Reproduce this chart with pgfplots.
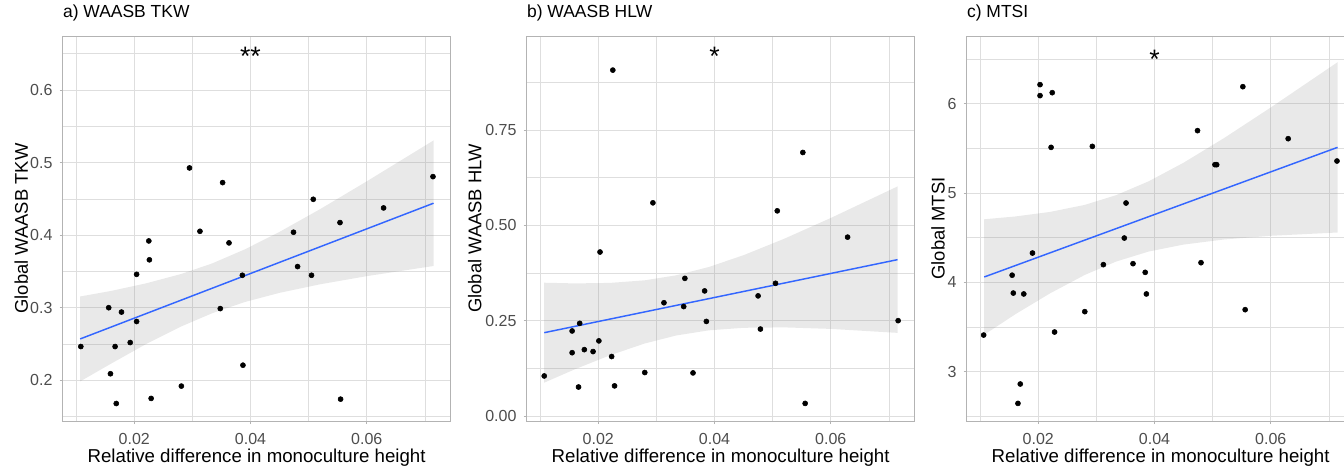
\documentclass[border=0pt]{standalone}
\usepackage{pgfplots}
\usepackage{pgfplotstable}
\pgfplotsset{compat=1.18}
\usepackage{fontspec}
\setmainfont{Liberation Sans}
\definecolor{gridmaj}{HTML}{DEDEDE}
\definecolor{bordergray}{HTML}{B3B3B3}
\definecolor{ticktext}{HTML}{4D4D4D}
\definecolor{smoothblue}{HTML}{3366FF}
\definecolor{bandgray}{HTML}{999999}

% Panel a points
\pgfplotstableread{
x y
0.0108 0.2465
0.0156 0.300
0.0159 0.209
0.0167 0.2465
0.0169 0.168
0.0178 0.294
0.0193 0.252
0.0204 0.346
0.0204 0.281
0.0225 0.392
0.0226 0.366
0.0229 0.175
0.0281 0.192
0.0295 0.4926
0.0313 0.4053
0.0348 0.2988
0.0352 0.4724
0.0363 0.3893
0.0386 0.3447
0.0387 0.2208
0.0474 0.404
0.0481 0.3567
0.0505 0.3447
0.0508 0.4494
0.0554 0.4173
0.0555 0.174
0.0629 0.4375
0.0714 0.4806
}\dataA
\pgfplotstableread{
x y
0.0107 0.3155
0.016 0.3231
0.022 0.3335
0.028 0.3463
0.0334 0.3610
0.039 0.3803
0.045 0.4045
0.052 0.4359
0.06 0.4741
0.0715 0.5305
0.0715 0.3575
0.06 0.3435
0.052 0.3323
0.045 0.3205
0.039 0.3078
0.0334 0.2924
0.028 0.2739
0.022 0.2498
0.016 0.2229
0.0107 0.1985
}\bandA
\pgfplotstableread{
x y
0.0107 0.257
0.0715 0.444
}\lineA

% Panel b points
\pgfplotstableread{
x y
0.0107 0.105
0.0155 0.166
0.0155 0.223
0.0166 0.076
0.0168 0.243
0.0176 0.174
0.0191 0.169
0.0201 0.197
0.0203 0.430
0.0223 0.156
0.0225 0.907
0.0228 0.079
0.0280 0.114
0.0294 0.559
0.0313 0.297
0.0347 0.287
0.0349 0.361
0.0363 0.113
0.0383 0.328
0.0386 0.248
0.0475 0.315
0.0479 0.228
0.0505 0.348
0.0508 0.538
0.0552 0.691
0.0556 0.033
0.0629 0.469
0.0716 0.250
}\dataB
\pgfplotstableread{
x y
0.0107 0.3495
0.016 0.3477
0.022 0.3490
0.028 0.3558
0.0334 0.3689
0.039 0.3906
0.045 0.4217
0.052 0.4648
0.06 0.5192
0.0715 0.602
0.0715 0.218
0.06 0.2284
0.052 0.2324
0.045 0.2313
0.039 0.2246
0.0334 0.2111
0.028 0.1902
0.022 0.1592
0.016 0.1227
0.0107 0.0875
}\bandB
\pgfplotstableread{
x y
0.0107 0.2185
0.0715 0.410
}\lineB

% Panel c points
\pgfplotstableread{
x y
0.0106 3.41
0.0155 4.08
0.0157 3.88
0.0165 2.645
0.0169 2.862
0.0175 3.87
0.0190 4.328
0.0203 6.213
0.0203 6.09
0.0222 5.511
0.0224 6.123
0.0228 3.444
0.0280 3.672
0.0293 5.522
0.0312 4.198
0.0348 4.496
0.0351 4.888
0.0363 4.209
0.0384 4.112
0.0386 3.87
0.0474 5.698
0.0480 4.22
0.0504 5.317
0.0507 5.317
0.0552 6.19
0.0556 3.694
0.0630 5.608
0.0714 5.358
}\dataC
\pgfplotstableread{
x y
0.0107 4.706
0.016 4.737
0.022 4.788
0.028 4.867
0.0334 4.976
0.039 5.131
0.045 5.339
0.052 5.616
0.06 5.957
0.0715 6.464
0.0715 4.558
0.06 4.521
0.052 4.480
0.045 4.423
0.039 4.345
0.0334 4.233
0.028 4.083
0.022 3.876
0.016 3.641
0.0107 3.414
}\bandC
\pgfplotstableread{
x y
0.0107 4.06
0.0715 5.511
}\lineC

\pgfplotsset{
  panel/.style={
    scale only axis, width=290.7pt, height=288.75pt, anchor=south west,
    xmin=0.0077, xmax=0.0744,
    scaled x ticks=false, scaled y ticks=false,
    axis line style={draw=bordergray, line width=0.6pt},
    tick align=outside, tick pos=left,
    major tick length=2.4pt, minor tick length=0pt,
    every tick/.style={draw=bordergray, line width=0.6pt},
    grid=both,
    major grid style={draw=gridmaj, line width=0.6pt},
    minor grid style={draw=gridmaj, line width=0.35pt},
    xtick={0.02,0.04,0.06}, xticklabels={0.02,0.04,0.06},
    minor xtick={0.01,0.03,0.05,0.07},
    /pgf/number format/assume math mode=true,
    ticklabel style={font=\fontsize{12}{14}\selectfont, text=ticktext},
    xticklabel style={inner sep=0pt, anchor=north, yshift=-6.5pt},
    yticklabel style={inner sep=0pt, anchor=east, xshift=-5.2pt},
    xlabel={Relative difference in monoculture height},
    xlabel style={at={(axis description cs:0.5,-0.109)}, anchor=base, inner sep=0pt, font=\fontsize{14}{16}\selectfont},
    ylabel style={anchor=south, inner sep=0pt, font=\fontsize{13.8}{16}\selectfont},
    title style={at={(axis description cs:0,1.026)}, anchor=base west, inner sep=0pt, font=\fontsize{13.1}{15}\selectfont},
    clip=true,
  },
  pts/.style={only marks, mark=*, mark size=1.9pt, black},
  band/.style={fill=bandgray, fill opacity=0.22, draw=none},
  fit/.style={smoothblue, line width=1.1pt},
}
\tikzset{starlbl/.style={anchor=base, inner sep=0pt, font=\fontsize{20}{22}\selectfont}}

\begin{document}
\begin{tikzpicture}
\path[use as bounding box] (0,0) rectangle (1008pt,350.25pt);

\begin{axis}[panel, at={(47.1pt,34.5pt)},
  ymin=0.1439, ymax=0.6744,
  ytick={0.2,0.3,0.4,0.5,0.6}, yticklabels={0.2,0.3,0.4,0.5,0.6},
  minor ytick={0.15,0.25,0.35,0.45,0.55,0.65},
  ylabel={Global WAASB TKW},
  ylabel style={at={(axis description cs:-0.089,0.5)}},
  title={a) WAASB TKW}]
\addplot[pts] table[x=x,y=y] {\dataA};
\addplot[band] table[x=x,y=y] {\bandA};
\addplot[fit] table[x=x,y=y] {\lineA};
\node[starlbl] at (axis cs:0.04,0.6344) {**};
\end{axis}

\begin{axis}[panel, at={(395.1pt,34.5pt)},
  ymin=-0.0131, ymax=0.9965,
  ytick={0,0.25,0.5,0.75}, yticklabels={0.00,0.25,0.50,0.75},
  minor ytick={0.125,0.375,0.625,0.875},
  ylabel={Global WAASB HLW},
  ylabel style={at={(axis description cs:-0.116,0.5)}},
  title={b) WAASB HLW}]
\addplot[pts] table[x=x,y=y] {\dataB};
\addplot[band] table[x=x,y=y] {\bandB};
\addplot[fit] table[x=x,y=y] {\lineB};
\node[starlbl] at (axis cs:0.04,0.9178) {*};
\end{axis}

\begin{axis}[panel, at={(725.1pt,34.5pt)},
  ymin=2.448, ymax=6.7575,
  ytick={3,4,5,6}, yticklabels={3,4,5,6},
  minor ytick={2.5,3.5,4.5,5.5,6.5},
  ylabel={Global MTSI},
  ylabel style={at={(axis description cs:-0.056,0.5)}},
  title={c) MTSI}]
\addplot[pts] table[x=x,y=y] {\dataC};
\addplot[band] table[x=x,y=y] {\bandC};
\addplot[fit] table[x=x,y=y] {\lineC};
\node[starlbl] at (axis cs:0.04,6.391) {*};
\end{axis}
\end{tikzpicture}
\end{document}
